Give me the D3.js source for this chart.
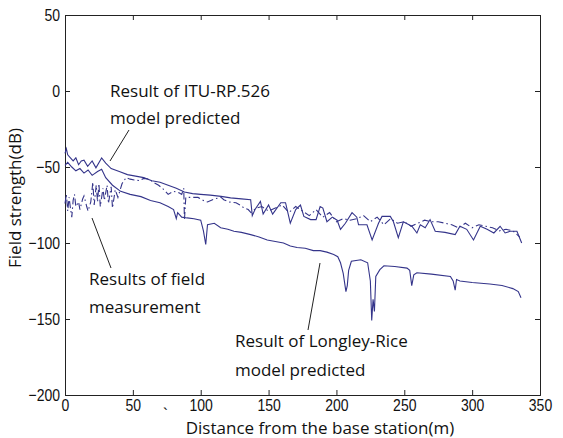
<!DOCTYPE html>
<html>
<head>
<meta charset="utf-8">
<script src="https://cdn.jsdelivr.net/npm/d3@7"></script>
<style>
body { margin: 0; background: #fff; }
svg text { fill: #111; }
.tick text { font-family: "Liberation Sans", Arial, sans-serif; font-size: 14px; }
.lbl { font-family: "Open Sans", "Noto Sans", sans-serif; font-size: 17px; }
</style>
</head>
<body>
<svg width="563" height="438"></svg>
<script>
// series: [distance (m), field strength (dB)]
var ituData = [[0,-41],[1,-38],[2,-42],[4,-44],[6,-46],[8,-44],[10,-48.5],[12,-46],[14,-45.5],[16.7,-49.5],
    [20,-46],[22.8,-50.5],[27,-44],[30,-47.5],[34,-51],[40,-53],[46,-55],[52,-56],[58,-57],[64,-59],[70,-60],
    [76,-62],[82,-64],[88,-66.5],[94,-67.5],[100,-68],[107,-68.5],[115,-69.3],[122,-70.3],[130,-71],[136.8,-71.5],
    [138,-82],[140,-78],[144,-72.6],[146,-81],[150,-75],[153,-81],[159,-73.5],[162.5,-73.5],[166,-87],[170,-78],
    [173.5,-75],[176,-82.5],[181,-84.6],[185,-84.6],[188,-76],[190,-77],[193,-86],[197,-83],[200.5,-85],[203,-91],
    [206.6,-87],[211.5,-80],[215,-83],[216.3,-88],[222.5,-88],[226.3,-98],[231,-87],[233.6,-82.5],[239.7,-82.5],
    [242,-86],[245.6,-96.5],[249.3,-86],[255.6,-89],[259.3,-93.4],[261.8,-88],[265.4,-90],[269,-84.6],[272.8,-92.3],
    [280,-93],[287.5,-94.5],[291,-89],[296,-91],[301,-98],[306,-89],[311,-91],[316,-93.4],[320.6,-89],[324.3,-93.4],
    [328,-92.3],[333,-92.3],[336.5,-100]];

var measData = [[0,-74],[1,-68],[2,-79],[3,-70],[4,-77],[5,-83],[6,-72],[7,-68],[8,-76],[10,-73],[11,-78],[13,-71],
    [14,-69],[16,-76],[17,-79],[19,-73],[20.5,-60],[21.5,-75],[23,-62],[24,-73],[25,-61],[26,-76],[28,-64],[29,-72],
    [31,-62],[32,-74],[34,-63],[35,-77],[37,-65],[39,-70],[42,-61],[45,-57],[48,-58],[51,-58.5],[55,-59],[58,-57.5],
    [62,-58],[65,-60],[69,-62],[73,-65],[76,-68],[80,-66],[84,-67],[86,-68],[87.5,-64],[88,-85],[89,-70],[94,-70],
    [98,-70],[102,-72],[105,-73],[110,-71],[115,-70],[117,-71.5],[121,-73],[126,-73.5],[129,-75],[132,-77],[135,-78],
    [137,-80],[141,-77],[145,-76],[150,-79],[155,-77],[160,-75],[165,-80],[170,-76],[175,-79],[180,-82],[185,-78],
    [190,-83],[195,-80],[200,-86],[205,-84],[210,-85],[215,-84],[220,-82],[225,-86],[230,-83],[235,-88],[240,-84],
    [245,-87],[250,-86],[255,-89],[260,-87],[265,-85],[270,-86],[275,-86],[280,-87],[285,-88],[290,-90],[295,-87],
    [300,-90],[305,-88],[310,-89],[315,-90],[320,-92],[325,-91],[330,-92],[335,-96]];

var lrData = [[0,-49],[2,-47],[5,-50],[8,-52.5],[11,-51],[14,-54],[17,-52],[20,-55.5],[24,-53],[27,-51.5],[30,-57],
    [35,-62],[41,-66],[48,-68],[56,-69.5],[63,-72],[70,-73.5],[76,-76],[80,-78],[82,-84],[83,-80],[86,-83],[90,-83.5],
    [95,-84],[100,-85],[102,-92],[103.7,-101],[105,-88],[110,-87],[114.7,-90],[120,-91],[124.5,-92.3],[130,-93],
    [136.8,-94.5],[143,-96],[149,-98],[155,-99],[161,-100],[166,-102],[171,-103],[177,-103.5],[183,-105],[188,-105],
    [193,-106],[198,-107.6],[201,-109],[203,-113],[205,-120],[207,-132],[208,-128],[209,-118],[211,-112],[218,-111],
    [223,-113],[225,-125],[226,-151],[227,-137],[228,-145],[229,-122],[232,-117.5],[235,-115],[243,-115.5],[252,-116.5],
    [254,-118],[255.5,-128],[257,-121],[259.3,-119.6],[270,-120.5],[284,-122],[286,-125],[287.5,-131],[288.5,-124],
    [291,-125],[300,-126],[313,-127],[322,-128],[330,-130],[334,-132],[336,-136]];

var xTicks = [0, 50, 100, 150, 200, 250, 300, 350];
var yTicks = [50, 0, -50, -100, -150, -200];

var svg = d3.select("svg");
var plotLeft = 65, plotRight = 540, plotTop = 15, plotBottom = 395;

var x = d3.scaleLinear().domain([0, 350]).range([plotLeft, plotRight]);
var y = d3.scaleLinear().domain([-200, 50]).range([plotBottom, plotTop]);

svg.append("rect").attr("width", 563).attr("height", 438).attr("fill", "#fff");

// axes, MATLAB style: ticks point inwards, box all round
svg.append("g").attr("transform", "translate(0," + plotBottom + ")")
    .call(d3.axisBottom(x).tickValues(xTicks).tickSize(-5).tickPadding(4));
svg.append("g").attr("transform", "translate(0," + plotTop + ")")
    .call(d3.axisTop(x).tickValues(xTicks).tickSize(-5).tickFormat(""));
svg.append("g").attr("transform", "translate(" + plotLeft + ",0)")
    .call(d3.axisLeft(y).tickValues(yTicks).tickSize(-5).tickPadding(5));
svg.append("g").attr("transform", "translate(" + plotRight + ",0)")
    .call(d3.axisRight(y).tickValues(yTicks).tickSize(-5).tickFormat(""));

svg.selectAll(".domain").attr("stroke", "#222");
svg.selectAll(".tick line").attr("stroke", "#222");
// tick labels in the picture are tall and narrow
svg.selectAll(".tick text").each(function () {
    var t = d3.select(this);
    t.attr("transform", "scale(1,1.2)").attr("y", +t.attr("y") / 1.2 || null);
});

var line = d3.line()
    .x(function (d) { return x(d[0]); })
    .y(function (d) { return y(d[1]); });

var lineColor = "#34348a";

svg.append("path").datum(measData)
    .attr("d", line).attr("fill", "none")
    .attr("stroke", lineColor).attr("stroke-width", 1.1)
    .attr("stroke-dasharray", "7,3,1.5,3");

svg.append("path").datum(ituData)
    .attr("d", line).attr("fill", "none")
    .attr("stroke", lineColor).attr("stroke-width", 1.1);

svg.append("path").datum(lrData)
    .attr("d", line).attr("fill", "none")
    .attr("stroke", lineColor).attr("stroke-width", 1.1);

// annotations
function label(tx, ty, str) {
    svg.append("text").attr("class", "lbl").attr("x", tx).attr("y", ty).text(str);
}
function leader(x1, y1, x2, y2) {
    svg.append("line").attr("x1", x1).attr("y1", y1).attr("x2", x2).attr("y2", y2)
        .attr("stroke", "#222").attr("stroke-width", 1);
}

label(110, 97, "Result of ITU-RP.526");
label(110, 124, "model predicted");
leader(129, 130, 110, 161);

label(89, 285, "Results of field");
label(89, 313, "measurement");
leader(92, 218, 111, 268);

label(235, 347, "Result of Longley-Rice");
label(235, 376, "model predicted");
leader(320, 263, 308, 330);

svg.append("text").attr("class", "lbl")
    .attr("x", 320).attr("y", 434)
    .attr("text-anchor", "middle")
    .text("Distance from the base station(m)");
svg.append("text").attr("class", "lbl").attr("x", 163).attr("y", 420).text("`");

svg.append("text").attr("class", "lbl")
    .attr("transform", "translate(21,198) rotate(-90)")
    .attr("text-anchor", "middle")
    .text("Field strength(dB)");
</script>
</body>
</html>
